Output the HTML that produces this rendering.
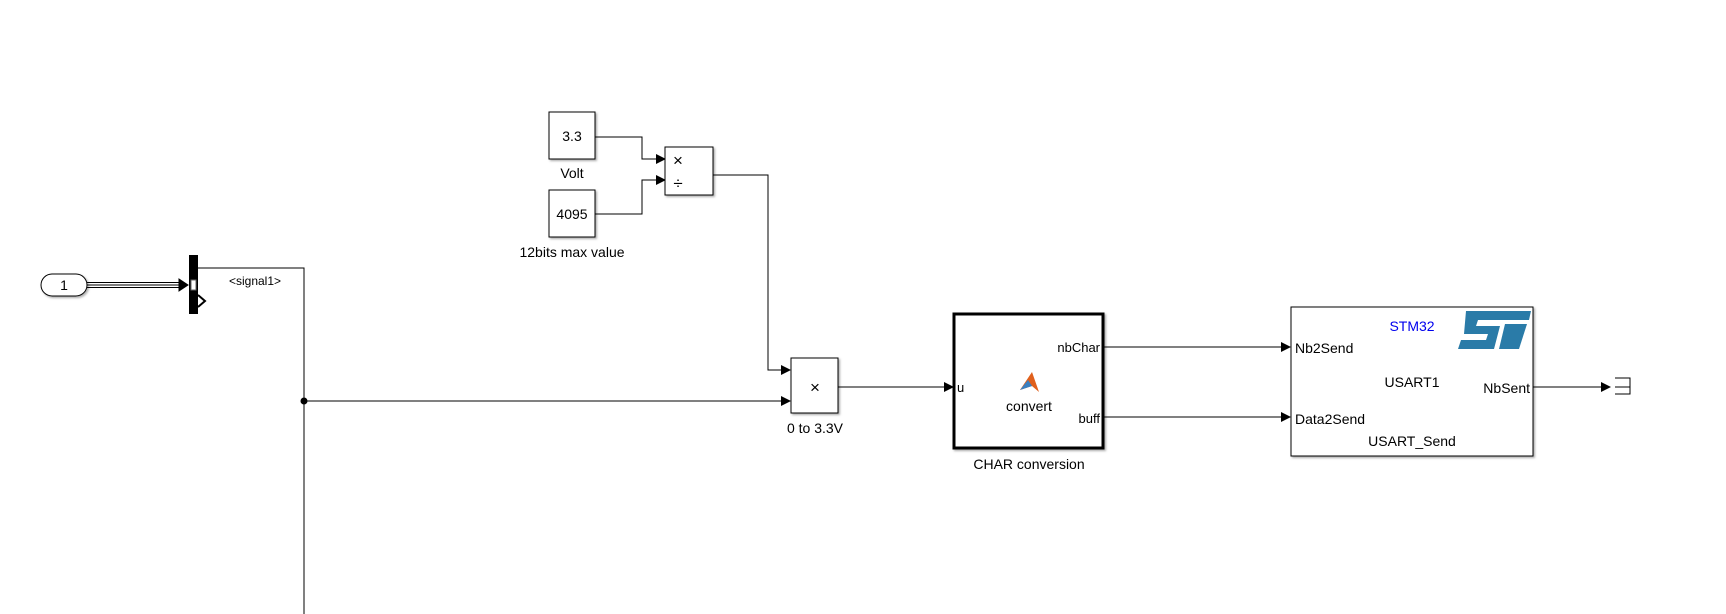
<!DOCTYPE html>
<html><head><meta charset="utf-8"><style>
html,body{margin:0;padding:0;background:#fff;}
svg{display:block;font-family:"Liberation Sans",Arial,sans-serif;}
</style></head><body>
<svg width="1726" height="614" viewBox="0 0 1726 614" xmlns="http://www.w3.org/2000/svg">
<defs>
<marker id="a" markerWidth="10" markerHeight="10" refX="9" refY="5" orient="auto" markerUnits="userSpaceOnUse"><path d="M0,0 L10,5 L0,10 z" fill="#000"/></marker>
<filter id="sh" x="-10%" y="-10%" width="130%" height="130%"><feDropShadow dx="1.5" dy="1.5" stdDeviation="1" flood-color="#888" flood-opacity="0.7"/></filter>
</defs>
<g stroke="#000" stroke-width="1" fill="none">
<rect x="41" y="274" width="46" height="22" rx="11" fill="#fff" filter="url(#sh)"/>
<line x1="87" y1="282.5" x2="182" y2="282.5"/>
<line x1="87" y1="285" x2="182" y2="285"/>
<line x1="87" y1="287.5" x2="182" y2="287.5"/>
<path d="M179,279 L188,285 L179,291 z" fill="#000"/>
<rect x="189" y="255" width="9" height="59" fill="#000" stroke="none"/>
<rect x="191" y="280" width="5" height="10" fill="#fff" stroke="#666"/>
<path d="M198,295 L205,301 L198,307" stroke-width="2"/>
<polyline points="198,268 304,268 304,614"/>
<circle cx="304" cy="401" r="3" fill="#000"/>
<line x1="304" y1="401" x2="790" y2="401" marker-end="url(#a)"/>
<rect x="549" y="112" width="46" height="47" fill="#fff" filter="url(#sh)"/>
<rect x="549" y="190" width="46" height="47" fill="#fff" filter="url(#sh)"/>
<polyline points="595,137 642,137 642,159 665,159" marker-end="url(#a)"/>
<polyline points="595,214 642,214 642,180 665,180" marker-end="url(#a)"/>
<rect x="665" y="147" width="48" height="48" fill="#fff" filter="url(#sh)"/>
<polyline points="713,175 768,175 768,370 790,370" marker-end="url(#a)"/>
<rect x="791" y="358" width="47" height="55" fill="#fff" filter="url(#sh)"/>
<line x1="838" y1="387" x2="953" y2="387" marker-end="url(#a)"/>
<rect x="954" y="314" width="149" height="134" fill="#fff" stroke-width="3" filter="url(#sh)"/>
<line x1="1104" y1="347" x2="1290" y2="347" marker-end="url(#a)"/>
<line x1="1104" y1="417" x2="1290" y2="417" marker-end="url(#a)"/>
<rect x="1291" y="307" width="242" height="149" fill="#fff" filter="url(#sh)"/>
<line x1="1533" y1="387" x2="1610" y2="387" marker-end="url(#a)"/>
<polyline points="1615,378 1630,378 1630,394 1615,394"/>
<line x1="1615" y1="387" x2="1630" y2="387"/>
</g>
<text x="678" y="166" font-size="17" text-anchor="middle">×</text>
<text x="678" y="189" font-size="17" text-anchor="middle">÷</text>
<text x="815" y="393" font-size="17" text-anchor="middle">×</text>
<g font-size="14" fill="#000" text-anchor="middle">
<text x="64" y="290">1</text>
<text x="572" y="141">3.3</text>
<text x="572" y="219">4095</text>
<text x="572" y="178">Volt</text>
<text x="572" y="257">12bits max value</text>
<text x="815" y="433">0 to 3.3V</text>
<text x="1029" y="469">CHAR conversion</text>
<text x="1029" y="411">convert</text>
<text x="1412" y="387">USART1</text>
<text x="1412" y="446">USART_Send</text>
<text x="1412" y="331" fill="#0000ee">STM32</text>
</g>
<text x="255" y="285" font-size="12" text-anchor="middle">&lt;signal1&gt;</text>
<g font-size="13">
<text x="957" y="392">u</text>
<text x="1100" y="352" text-anchor="end">nbChar</text>
<text x="1100" y="423" text-anchor="end">buff</text>
</g>
<g font-size="14">
<text x="1295" y="353">Nb2Send</text>
<text x="1295" y="424">Data2Send</text>
<text x="1530" y="393" text-anchor="end">NbSent</text>
</g>
<path d="M1020,390 L1032,372 L1039,392 L1032,386 z" fill="#e0601c"/>
<path d="M1020,390 L1028,380 L1032,386 z" fill="#3a7fc0"/>
<g fill="#2a7ba8">
<path d="M1466,311 L1531,311 L1529,320 L1478,320 L1476,326 L1500,326 L1494,349 L1458,349 L1461,340 L1486,340 L1488,334 L1464,334 z"/>
<path d="M1505,324 L1527,324 L1519,349 L1499,349 z"/>
</g>
</svg>
</body></html>
